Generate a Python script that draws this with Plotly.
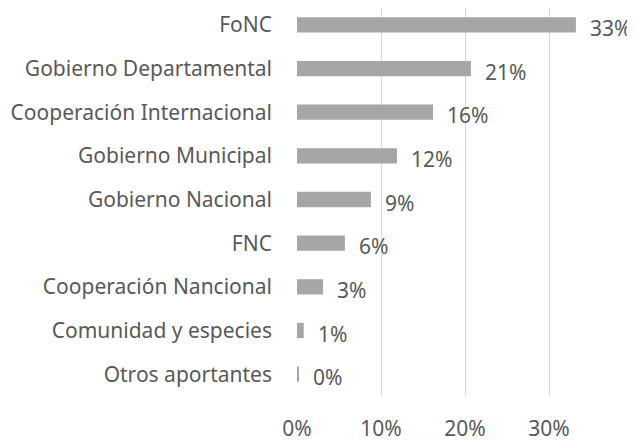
import plotly.graph_objects as go

# Distribution of funding by source
categorias = ["FoNC", "Gobierno Departamental", "Cooperación Internacional",
              "Gobierno Municipal", "Gobierno Nacional", "FNC",
              "Cooperación Nancional", "Comunidad y especies", "Otros aportantes"]
valores = [0.332, 0.207, 0.162, 0.119, 0.088, 0.057, 0.031, 0.008, 0.002]
etiquetas = ["33%", "21%", "16%", "12%", "9%", "6%", "3%", "1%", "0%"]

FONT = "Noto Sans, Open Sans, sans-serif"
GRIS_TEXTO = "#595959"
TAM = 21

fig = go.Figure()
fig.add_trace(go.Bar(
    x=valores, y=categorias, orientation="h",
    marker=dict(color="#a6a6a6", line=dict(width=0)),
    width=0.35,
))

# value labels to the right of each bar (slightly below centre, like the original)
for v, c, t in zip(valores, categorias, etiquetas):
    fig.add_annotation(x=v, y=c, text=t, showarrow=False,
                       xanchor="left", xshift=12, yshift=-3,
                       font=dict(family=FONT, size=TAM, color=GRIS_TEXTO))

# the page body has an 8px margin, so the figure is a bit smaller than the window
fig.update_layout(
    width=627, height=433,
    margin=dict(l=289, r=44, t=0, b=45, autoexpand=False),
    paper_bgcolor="white", plot_bgcolor="white",
    showlegend=False,
    font=dict(family=FONT, size=TAM, color=GRIS_TEXTO),
    xaxis=dict(range=[0, 0.35], tickvals=[0, 0.1, 0.2, 0.3],
               tickformat=".0%", showgrid=True, gridcolor="#d9d9d9",
               gridwidth=1, zeroline=False, showline=False, ticks="",
               ticklabelstandoff=18, automargin=False),
    yaxis=dict(range=[8.5, -0.386], showgrid=False, zeroline=False,
               showline=False, ticks="", ticklabelstandoff=24,
               automargin=False),
)

fig.write_html("out.html")
